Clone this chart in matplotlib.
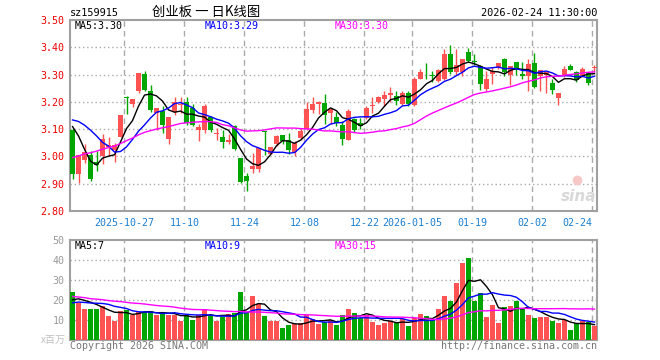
import numpy as np
import pandas as pd
import matplotlib
matplotlib.use("Agg")
import matplotlib.pyplot as plt

plt.rcParams['font.family'] = ['DejaVu Sans Mono', 'Noto Sans CJK SC']

### DATOS: velas diarias sz159915 (2025-10-14 .. 2026-02-24)
opens = [3.096, 2.934, 2.987, 3.004, 2.980, 3.002, 3.036, 3.024, 3.072, 3.218,
         3.192, 3.238, 3.302, 3.240, 3.158, 3.167, 3.063, 3.161, 3.188, 3.201,
         3.176, 3.097, 3.097, 3.146, 3.081, 3.072, 3.053, 3.110, 2.993, 2.928,
         2.953, 2.955, 3.094, 3.008, 3.045, 3.078, 3.060, 3.015, 3.066, 3.100,
         3.171, 3.192, 3.195, 3.160, 3.143, 3.114, 3.061, 3.137, 3.122, 3.141,
         3.183, 3.198, 3.212, 3.226, 3.220, 3.192, 3.234, 3.190, 3.283, 3.317,
         3.297, 3.277, 3.283, 3.375, 3.310, 3.310, 3.384, 3.350, 3.330, 3.247,
         3.302, 3.326, 3.357, 3.298, 3.345, 3.302, 3.293, 3.342, 3.296, 3.298,
         3.269, 3.214, 3.296, 3.332, 3.308, 3.293, 3.305, 3.324]
highs = [3.106, 3.005, 3.045, 3.020, 3.020, 3.081, 3.072, 3.050, 3.151, 3.222,
         3.210, 3.305, 3.314, 3.261, 3.179, 3.185, 3.143, 3.218, 3.219, 3.218,
         3.191, 3.118, 3.191, 3.150, 3.106, 3.097, 3.084, 3.114, 2.993, 2.938,
         3.012, 3.030, 3.094, 3.036, 3.079, 3.078, 3.087, 3.057, 3.106, 3.198,
         3.216, 3.204, 3.228, 3.178, 3.161, 3.130, 3.173, 3.140, 3.140, 3.185,
         3.216, 3.222, 3.241, 3.253, 3.241, 3.241, 3.241, 3.290, 3.320, 3.342,
         3.314, 3.320, 3.393, 3.408, 3.393, 3.357, 3.396, 3.375, 3.335, 3.314,
         3.326, 3.342, 3.359, 3.330, 3.347, 3.345, 3.357, 3.379, 3.318, 3.308,
         3.283, 3.232, 3.332, 3.338, 3.314, 3.326, 3.310, 3.335]
lows = [2.916, 2.901, 2.975, 2.910, 2.947, 2.971, 3.002, 2.980, 3.072, 3.155,
        3.182, 3.234, 3.238, 3.163, 3.097, 3.085, 3.047, 3.151, 3.158, 3.116,
        3.110, 3.057, 3.085, 3.090, 3.060, 3.032, 3.045, 3.023, 2.904, 2.873,
        2.941, 2.943, 3.004, 3.008, 3.040, 3.045, 3.008, 3.000, 3.060, 3.098,
        3.158, 3.155, 3.118, 3.118, 3.110, 3.043, 3.061, 3.090, 3.100, 3.137,
        3.158, 3.195, 3.185, 3.198, 3.190, 3.190, 3.185, 3.185, 3.283, 3.283,
        3.271, 3.272, 3.280, 3.302, 3.300, 3.296, 3.345, 3.335, 3.244, 3.240,
        3.265, 3.320, 3.293, 3.261, 3.300, 3.283, 3.240, 3.250, 3.238, 3.234,
        3.228, 3.189, 3.290, 3.318, 3.274, 3.290, 3.261, 3.308]
closes = [2.937, 3.004, 3.016, 2.916, 2.969, 3.063, 3.041, 3.041, 3.151, 3.214,
          3.210, 3.305, 3.244, 3.171, 3.179, 3.116, 3.143, 3.201, 3.192, 3.124,
          3.114, 3.109, 3.183, 3.097, 3.087, 3.053, 3.059, 3.026, 2.906, 2.910,
          2.965, 3.030, 3.090, 3.036, 3.075, 3.057, 3.024, 3.048, 3.094, 3.173,
          3.191, 3.198, 3.153, 3.174, 3.122, 3.063, 3.167, 3.098, 3.110, 3.178,
          3.188, 3.218, 3.225, 3.231, 3.203, 3.234, 3.192, 3.283, 3.308, 3.315,
          3.295, 3.316, 3.375, 3.310, 3.335, 3.357, 3.351, 3.345, 3.265, 3.283,
          3.314, 3.342, 3.308, 3.330, 3.318, 3.296, 3.338, 3.256, 3.318, 3.308,
          3.244, 3.232, 3.322, 3.318, 3.281, 3.322, 3.269, 3.326]
# volumen en millones
volumes = [23.9, 18.7, 15.4, 15.4, 15.4, 17.2, 11.8, 9.6, 14.7, 15.2,
           12.7, 13.9, 13.9, 14.7, 12.7, 13.3, 12.7, 12.7, 9.6, 12.5,
           10.1, 12.7, 15.7, 12.2, 9.6, 11.3, 13.0, 13.7, 23.8, 13.7,
           21.8, 18.1, 12.2, 9.3, 9.6, 6.1, 7.6, 8.0, 8.3, 12.7,
           10.5, 8.1, 9.0, 10.0, 7.6, 12.7, 15.7, 13.7, 11.0, 12.7,
           9.1, 7.6, 8.6, 9.3, 8.5, 10.7, 7.1, 11.0, 13.2, 12.2,
           10.1, 15.4, 21.8, 19.4, 28.3, 38.6, 41.0, 19.4, 23.3, 11.6,
           17.7, 8.6, 16.7, 17.2, 19.4, 16.0, 12.7, 11.2, 11.6, 11.6,
           9.6, 8.6, 9.8, 5.1, 8.3, 9.3, 8.8, 6.8]

# 29 dias previos (fuera de la ventana) solo para las medias moviles
pre_closes = [2.82, 2.78, 2.80, 2.79, 2.85, 2.86, 2.88, 2.87, 2.90, 2.92,
              2.95, 2.97, 2.99, 3.00, 2.98, 3.01, 3.03, 3.02, 3.05, 3.06,
              3.06, 3.15, 3.10, 3.18, 3.30, 3.176, 3.261, 3.131, 3.042]
pre_volumes = [28, 25, 31, 22, 26, 24, 19, 21, 27, 23,
               20, 22, 26, 24, 21, 19, 23, 25, 22, 20,
               15.0, 17.5, 18.0, 16.5, 18.5, 16.2, 19.4, 19.9, 21.1]

tick_idx = [9, 19, 29, 39, 49, 57, 67, 77, 87]
tick_labels = ["2025-10-27", "11-10", "11-24", "12-08", "12-22",
               "2026-01-05", "01-19", "02-02", "02-24"]
price_levels = [2.80, 2.90, 3.00, 3.10, 3.20, 3.30, 3.40, 3.50]
vol_levels = [10, 20, 30, 40, 50]
price_ma_text = ["MA5:3.30", "MA10:3.29", "MA30:3.30"]
vol_ma_text = ["MA5:7", "MA10:9", "MA30:15"]

RED = "#ff5252"
GREEN = "#00a600"
GRID = "#aaaaaa"
FRAME = "#a0a0a0"
MA_COLORS = ["black", "#0000ff", "#ff00ff"]
W, H = 660, 360

n = len(closes)
x = np.arange(n)
o = np.array(opens)
c = np.array(closes)
hi = np.array(highs)
lo = np.array(lows)
v = np.array(volumes)
up = c >= o
cols = [RED if u else GREEN for u in up]

allc = pd.Series(pre_closes + closes)
allv = pd.Series(pre_volumes + volumes)
npre = len(pre_closes)
price_ma = [allc.rolling(k).mean().values[npre:] for k in (5, 10, 30)]
vol_ma = [allv.rolling(k).mean().values[npre:] for k in (5, 10, 30)]


def frac(l, t, r, b):
    return [l / W, 1 - b / H, (r - l) / W, (b - t) / H]


fig = plt.figure(figsize=(6.6, 3.6), dpi=100)
ax = fig.add_axes(frac(70, 20, 597, 211))
axv = fig.add_axes(frac(70, 240, 597, 340))

xlim = (-0.42, n - 1 + 0.42)
grid_x = [t - 0.35 for t in tick_idx]

for a in (ax, axv):
    a.set_xlim(*xlim)
    for sp in a.spines.values():
        sp.set_color(FRAME)
        sp.set_linewidth(1.5)
    for gx in grid_x:
        a.axvline(gx, color=GRID, lw=1, ls=(0, (4, 3)), zorder=1)
    a.tick_params(length=0)

### precio
ax.set_ylim(2.80, 3.50)
for lv in price_levels[1:-1]:
    ax.axhline(lv, color=GRID, lw=1, ls=(0, (1, 2)), zorder=1)
ax.set_yticks(price_levels, [f"{p:.2f}" for p in price_levels])
ax.tick_params(axis='y', labelcolor="#ee0000", labelsize=7.2, pad=4)
ax.set_xticks(grid_x, tick_labels)
ax.tick_params(axis='x', labelcolor="#1a7fd0", labelsize=7.2, pad=5)
ax.get_xticklabels()[-1].set_ha('right')

ax.vlines(x, lo, hi, colors=cols, lw=1, zorder=3)
body = np.maximum(np.abs(c - o), 0.003)
ax.bar(x, body, width=0.83, bottom=np.minimum(o, c), color=cols,
       linewidth=0, zorder=3)
for m, col in zip(price_ma, MA_COLORS):
    ax.plot(x, m, color=col, lw=1, zorder=4)

for txt, col, px in zip(price_ma_text, MA_COLORS, (75, 205, 335)):
    ax.text((px - 70) / 527, 1 - 6 / 191, txt, color=col, fontsize=7.2,
            transform=ax.transAxes, ha='left', va='center')

ax.text(0.965, 0.075, "sina", transform=ax.transAxes, ha='center', va='center',
        fontsize=11, fontstyle='italic', fontweight='bold', color="#d8d8d8",
        family='DejaVu Sans', zorder=2)
ax.plot([0.962], [0.16], 'o', ms=7, mfc="#f6c8c8", mec="none",
        transform=ax.transAxes, zorder=2)

### volumen
axv.set_ylim(0, 50)
for lv in vol_levels[:-1]:
    axv.axhline(lv, color=GRID, lw=1, ls=(0, (1, 2)), zorder=1)
axv.set_yticks(vol_levels, [str(q) for q in vol_levels])
axv.tick_params(axis='y', labelcolor="#999999", labelsize=7.2, pad=4)
axv.set_xticks([])
axv.bar(x, v, width=0.83, color=cols, linewidth=0, zorder=3)
for m, col in zip(vol_ma, MA_COLORS):
    axv.plot(x, m, color=col, lw=1, zorder=4)
for txt, col, px in zip(vol_ma_text, MA_COLORS, (75, 205, 335)):
    axv.text((px - 70) / 527, 1 - 6 / 100, txt, color=col, fontsize=7.2,
             transform=axv.transAxes, ha='left', va='center')

### textos
fig.text(70 / W, 1 - 13 / H, "sz159915", fontsize=7.4, ha='left', va='center')
fig.text(206 / W, 1 - 12 / H, "创业板 一 日K线图", fontsize=9.6, ha='center',
         va='center', family=['Noto Sans CJK SC', 'DejaVu Sans'])
fig.text(597 / W, 1 - 13 / H, "2026-02-24 11:30:00", fontsize=7.4,
         ha='right', va='center')
fig.text(66 / W, 1 - 340 / H, "x百万", fontsize=7.2, ha='right', va='center',
         color="#c0c0c0", family=['Noto Sans CJK SC', 'DejaVu Sans'])
fig.text(70 / W, 1 - 346 / H, "Copyright 2026 SINA.COM", fontsize=7.2,
         ha='left', va='center', color="#777777")
fig.text(597 / W, 1 - 346 / H, "http://finance.sina.com.cn", fontsize=7.2,
         ha='right', va='center', color="#777777")

fig.savefig("out.png", dpi=100)
